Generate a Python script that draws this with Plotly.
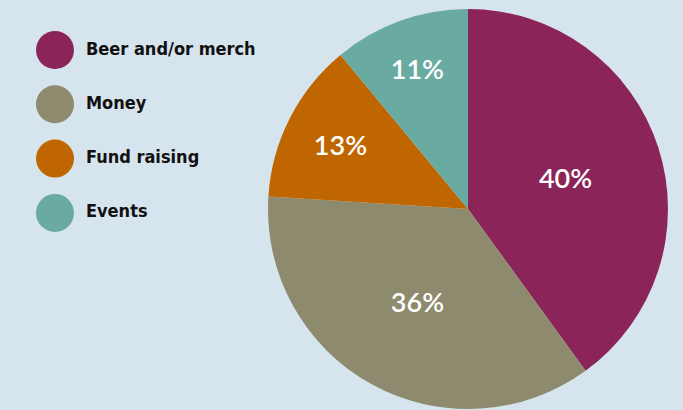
import plotly.graph_objects as go

categories = ["Beer and/or merch", "Money", "Fund raising", "Events"]
values = [40, 36, 13, 11]
colors = ["#8b2459", "#8e8a6d", "#c06600", "#6aaba1"]
bg = "#d6e4ed"

W, H = 683, 410

fig = go.Figure()

fig.add_trace(go.Pie(
    labels=categories,
    values=values,
    sort=False,
    direction="clockwise",
    rotation=0,
    marker=dict(colors=colors, line=dict(width=0)),
    textinfo="percent",
    texttemplate="%{percent:.0%}",
    textposition="inside",
    insidetextorientation="horizontal",
    insidetextfont=dict(color="white", size=27, family="Lato", weight=600),
    domain=dict(x=[268 / W, 668 / W], y=[1 / H, 401 / H]),
    showlegend=False,
    hoverinfo="label+percent",
))

# custom legend: circles + bold labels
fig.add_trace(go.Scatter(
    x=[55] * len(categories),
    y=categories,
    mode="markers",
    marker=dict(size=38, color=colors, line=dict(width=0)),
    showlegend=False,
    hoverinfo="skip",
    xaxis="x", yaxis="y",
))
fig.add_trace(go.Scatter(
    x=[86] * len(categories),
    y=categories,
    mode="text",
    text=categories,
    textposition="middle right",
    textfont=dict(size=18, color="#111111", family="DejaVu Sans Condensed", weight="bold"),
    showlegend=False,
    hoverinfo="skip",
    xaxis="x", yaxis="y",
))

step = 54.3
span = H / step
r0 = -50 / step
fig.update_layout(
    width=W, height=H,
    margin=dict(l=0, r=0, t=0, b=0),
    paper_bgcolor=bg,
    plot_bgcolor="rgba(0,0,0,0)",
    xaxis=dict(domain=[0, 273 / W], range=[0, 273], visible=False, fixedrange=True),
    yaxis=dict(domain=[0, 1], type="category", categoryorder="array", categoryarray=categories,
               range=[r0 + span, r0], visible=False, fixedrange=True),
)

fig.write_html(
    "out.html",
    config=dict(displayModeBar=False),
    post_script="document.body.style.margin='0';document.body.style.padding='0';",
)
